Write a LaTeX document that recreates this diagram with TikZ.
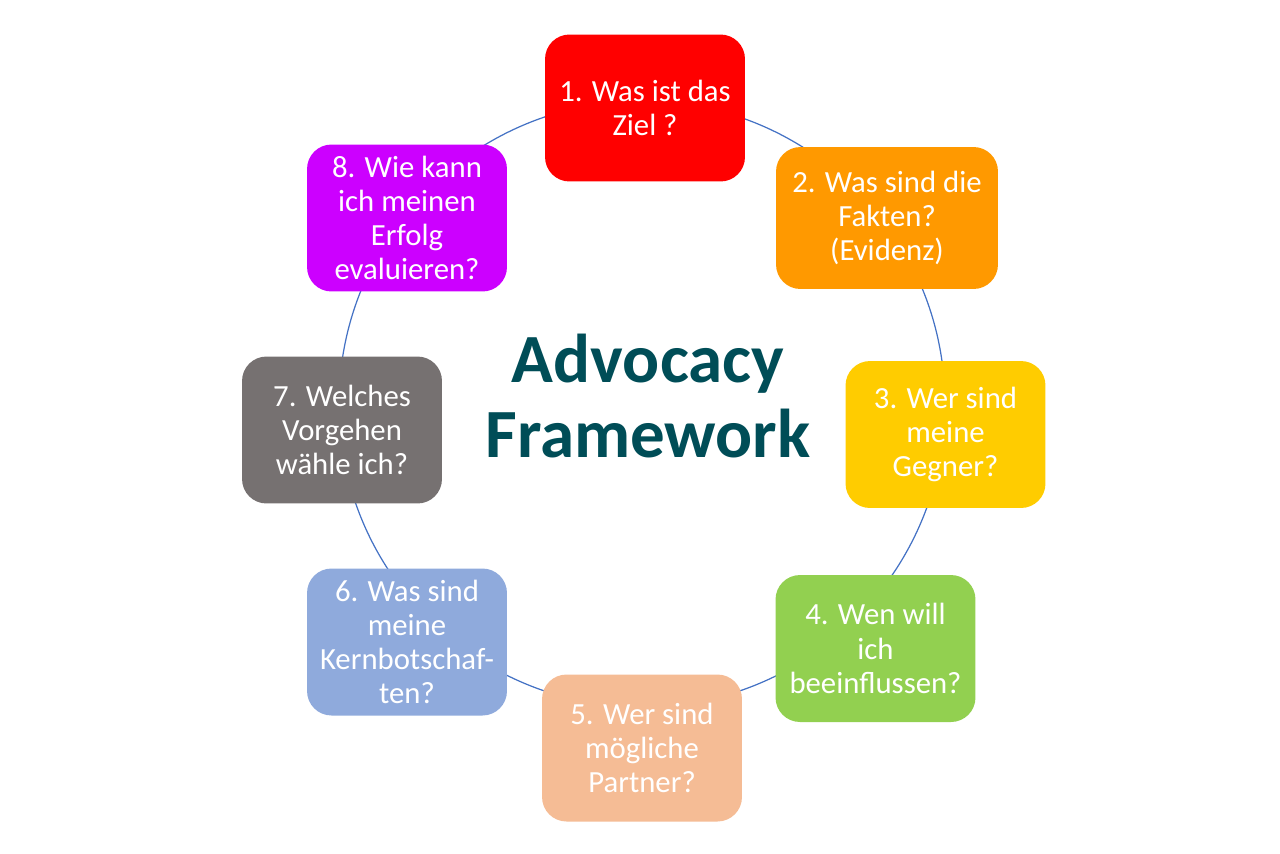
\documentclass[tikz,border=0pt]{standalone}
\usepackage{fontspec}
\setmainfont{Carlito}
\usetikzlibrary{positioning}
\definecolor{ziel}{HTML}{FF0000}
\definecolor{fakten}{HTML}{FF9900}
\definecolor{gegner}{HTML}{FFCC00}
\definecolor{einfluss}{HTML}{92D050}
\definecolor{partner}{HTML}{F5BC95}
\definecolor{botschaft}{HTML}{8FAADC}
\definecolor{vorgehen}{HTML}{767171}
\definecolor{erfolg}{HTML}{CC00FF}
\definecolor{titel}{HTML}{004D57}
\definecolor{ringblau}{HTML}{4472C4}

\begin{document}
\begin{tikzpicture}[x=0.02cm,y=-0.02cm,
    frage/.style={rounded corners=0.49cm,minimum width=4cm,minimum height=2.94cm,
      inner sep=0pt,align=center,text=white,font=\fontsize{17.5}{19.4}\selectfont},
    ring/.style={draw=ringblau,line width=0.7pt}]
  \useasboundingbox (0,0) rectangle (1280,853);
  \coordinate (mitte) at (642,404);
  \draw [ring] (mitte) circle (303);
  \node [frage,fill=ziel] (f1) at (645,108) {1. Was ist das\\Ziel ?};
  \node [frage,fill=fakten,minimum width=4.44cm,minimum height=2.84cm] (f2) at (887,218) {2. Was sind die\\Fakten?\\(Evidenz)};
  \node [frage,fill=gegner] (f3) at (945.5,434.5) {3. Wer sind\\meine\\Gegner?};
  \node [frage,fill=einfluss] (f4) at (875.5,648.5) {4. Wen will\\ich\\beeinflussen?};
  \node [frage,fill=partner] (f5) at (642,748) {5. Wer sind\\mögliche\\Partner?};
  \node [frage,fill=botschaft] (f6) at (407,642) {6. Was sind\\meine\\Kernbotschaf-\\ten?};
  \node [frage,fill=vorgehen] (f7) at (342,430) {7. Welches\\Vorgehen\\wähle ich?};
  \node [frage,fill=erfolg] (f8) at (407,218) {8. Wie kann\\ich meinen\\Erfolg\\evaluieren?};
  \node [align=center,text=titel,font=\fontsize{39.3}{43.2}\selectfont\bfseries] (titelText) at (648,396) {Advocacy\\Framework};
\end{tikzpicture}
\end{document}
